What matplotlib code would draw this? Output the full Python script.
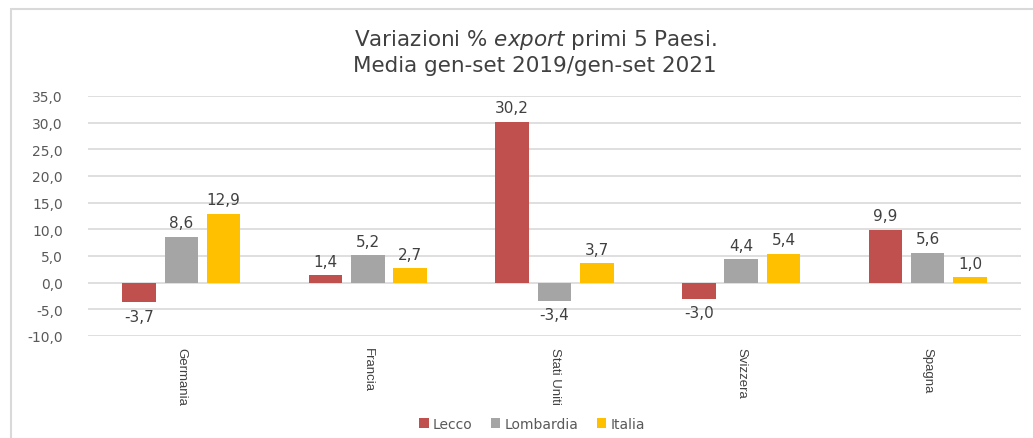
import matplotlib.pyplot as plt
import numpy as np
from matplotlib.patches import Rectangle

paesi = ["Germania", "Francia", "Stati Uniti", "Svizzera", "Spagna"]
lecco = [-3.7, 1.4, 30.2, -3.0, 9.9]
lombardia = [8.6, 5.2, -3.4, 4.4, 5.6]
italia = [12.9, 2.7, 3.7, 5.4, 1.0]

serie = [("Lecco", lecco, "#C0504D"),
         ("Lombardia", lombardia, "#A5A5A5"),
         ("Italia", italia, "#FFC000")]

plt.rcParams['font.family'] = ['DejaVu Sans']

fig = plt.figure(figsize=(10.33, 4.39), dpi=100)
W, H = 1033, 439
ax = fig.add_axes([88 / W, 1 - 337 / H, (1021 - 88) / W, (337 - 97) / H])

# cornice esterna del grafico incollato
fig.patches.append(Rectangle((11 / W, -0.1), 1.2, 1 - 10 / H + 0.1,
                             transform=fig.transFigure, fill=False,
                             edgecolor="#d9d9d9", linewidth=1.5))

x = np.arange(len(paesi))
width = 0.18
step = 0.227

for i, (nome, valori, colore) in enumerate(serie):
    pos = x + (i - 1) * step
    ax.bar(pos, valori, width, color=colore, label=nome, zorder=3)
    for xb, v in zip(pos, valori):
        testo = "{:.1f}".format(v).replace(".", ",")
        off = 1.2 if v >= 0 else -1.2
        ax.text(xb, v + off, testo, ha="center",
                va="bottom" if v >= 0 else "top",
                fontsize=11, color="#404040")

ax.set_xlim(-0.5, len(paesi) - 0.5)
ax.set_ylim(-10, 35)
ticks = np.arange(-10, 36, 5)
ax.set_yticks(ticks)
ax.set_yticklabels(["{:.1f}".format(t).replace(".", ",") for t in ticks])
ax.set_xticks(x)
ax.set_xticklabels(paesi, rotation=-90, fontsize=9.5, color="#404040",
                   family=['Liberation Sans Narrow', 'Liberation Sans', 'DejaVu Sans'])
ax.tick_params(axis="y", length=0, labelsize=10, labelcolor="#595959", pad=18)
ax.tick_params(axis="x", length=0, pad=8)
ax.grid(axis="y", color="#d9d9d9", linewidth=1.2, zorder=0)
for s in ax.spines.values():
    s.set_visible(False)

fig.text(0.518, 1 - 40 / H, "Variazioni % $\\it{export}$ primi 5 Paesi.",
         ha="center", va="center", fontsize=15.5, color="#404040")
fig.text(0.518, 1 - 66 / H, "Media gen-set 2019/gen-set 2021",
         ha="center", va="center", fontsize=15.5, color="#404040")

fig.legend(loc="center", bbox_to_anchor=(532 / W, 1 - 425 / H), ncol=3,
           frameon=False, fontsize=10, handlelength=0.7, handleheight=0.7,
           handletextpad=0.3, columnspacing=1.3, labelcolor="#595959")

fig.savefig("out.png", dpi=100)
